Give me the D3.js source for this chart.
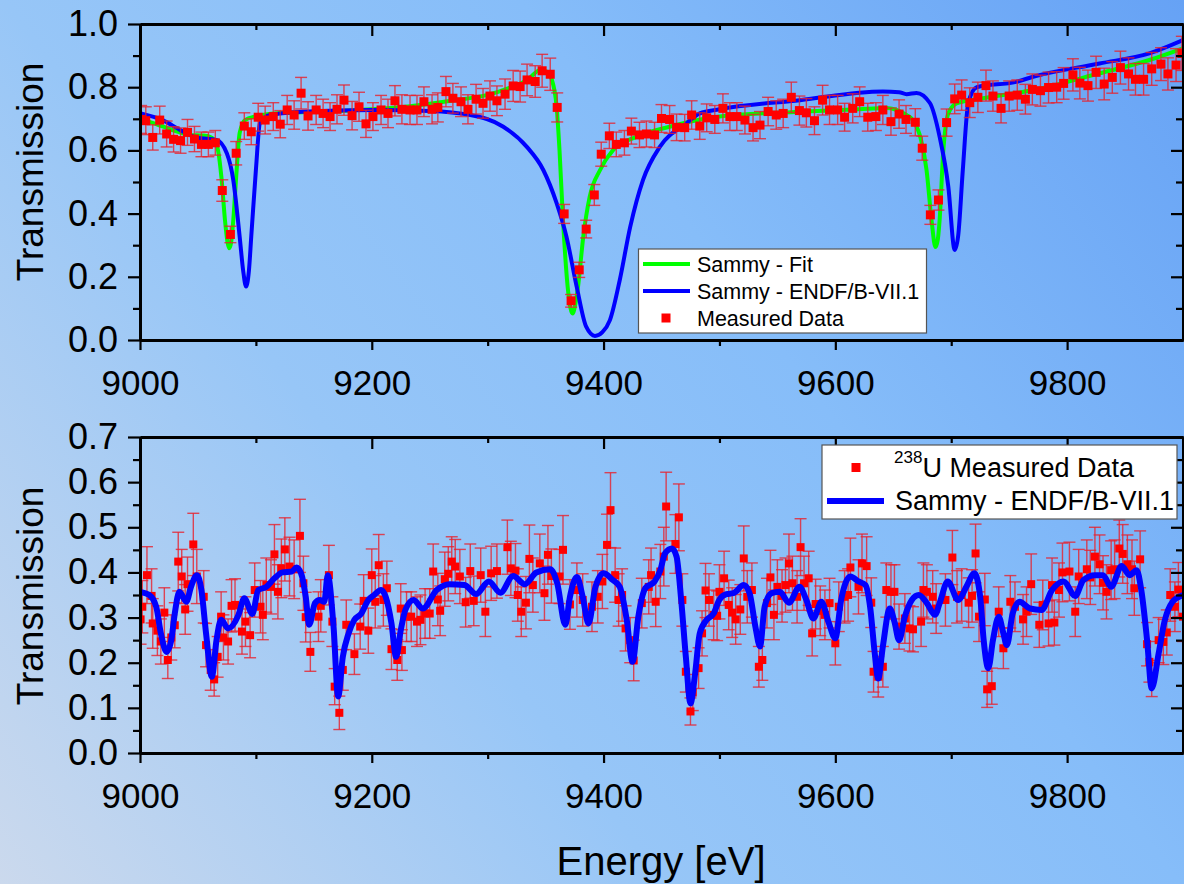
<!DOCTYPE html>
<html><head><meta charset="utf-8">
<script src="https://cdn.jsdelivr.net/npm/d3@7"></script>
<style>html,body{margin:0;padding:0;overflow:hidden;background:#fff}svg{display:block}</style>
</head><body>
<svg id="chart" width="1184" height="884"></svg>
<script>
// ---------------- data ----------------
const xMajorTicks = [9000, 9200, 9400, 9600, 9800];
const xMinorTicks = [9100, 9300, 9500, 9700];
const topYTicks = [0.0, 0.2, 0.4, 0.6, 0.8, 1.0];
const topYMinor = [0.1, 0.3, 0.5, 0.7, 0.9];
const bottomYTicks = [0.0, 0.1, 0.2, 0.3, 0.4, 0.5, 0.6, 0.7];
const bottomYMinor = [0.05, 0.15, 0.25, 0.35, 0.45, 0.55, 0.65];
const xLabel = "Energy [eV]";
const yLabel = "Transmission";
const topLegend = ["Sammy - Fit", "Sammy - ENDF/B-VII.1", "Measured Data"];
const bottomLegend = ["238", "U Measured Data", "Sammy - ENDF/B-VII.1"];

// top panel: SAMMY fit (green)
const topFit = [[9000,0.700],[9010,0.688],[9020,0.675],[9030,0.662],[9043,0.649],[9055,0.647],[9062,0.640],
 [9066.6,0.612],[9070.5,0.506],[9073.3,0.38],[9075.5,0.31],[9077,0.29],[9078.7,0.31],[9080.5,0.38],[9083.4,0.538],
 [9086,0.655],[9090.6,0.696],[9100,0.708],[9120,0.718],[9150,0.722],[9180,0.726],[9200,0.730],[9220,0.735],
 [9242,0.744],[9270,0.758],[9299,0.775],[9320,0.800],[9335,0.825],[9345,0.854],[9352,0.848],[9355,0.828],
 [9359.5,0.738],[9362,0.60],[9365,0.38],[9369.6,0.148],[9373.3,0.084],[9376,0.12],[9378,0.169],[9382.5,0.327],
 [9388,0.453],[9397,0.538],[9408,0.60],[9428.5,0.643],[9457,0.675],[9500,0.707],[9569,0.722],[9620,0.730],
 [9644,0.734],[9660,0.715],[9667,0.696],[9674,0.633],[9678.7,0.538],[9683,0.38],[9686.4,0.294],[9688.5,0.32],
 [9690,0.38],[9693,0.59],[9697.5,0.717],[9704.6,0.749],[9727.6,0.765],[9770.7,0.791],[9828,0.844],[9871,0.886],[9900,0.923]];

// top panel: SAMMY with ENDF/B-VII.1 (blue)
const topEndf = [[9000,0.718],[9020,0.695],[9034.5,0.665],[9049,0.640],[9066,0.633],[9075,0.59],[9080.5,0.506],
 [9086,0.327],[9089,0.22],[9091.5,0.169],[9094,0.22],[9096,0.327],[9100,0.538],[9103.5,0.686],[9112,0.712],
 [9140,0.722],[9200,0.728],[9250,0.725],[9285,0.712],[9313.5,0.675],[9333.6,0.612],[9348,0.538],[9359.5,0.433],
 [9368,0.327],[9376.8,0.169],[9385,0.042],[9392.6,0.013],[9399,0.025],[9405.5,0.063],[9414,0.19],[9423,0.358],
 [9434,0.506],[9448.7,0.612],[9471.7,0.686],[9483,0.717],[9500,0.730],[9569.5,0.759],[9641,0.786],[9655,0.784],
 [9661.5,0.778],[9670,0.782],[9681.6,0.75],[9690,0.643],[9697.5,0.485],[9703,0.285],[9706,0.33],[9710,0.538],
 [9714.7,0.75],[9722,0.80],[9756,0.817],[9770.6,0.833],[9828,0.875],[9871,0.907],[9900,0.949]];

// top panel measured data [E, T, error]
const topMeasured = [[9001,0.698,0.044],[9005,0.694,0.044],[9011,0.641,0.040],[9017,0.696,0.044],[9023,0.652,0.041],
 [9029,0.635,0.040],[9035,0.631,0.040],[9041,0.657,0.041],[9047,0.636,0.040],[9053,0.619,0.039],[9059,0.619,0.039],
 [9065,0.624,0.039],[9071,0.473,0.034],[9078,0.334,0.026],[9083,0.591,0.037],[9090,0.677,0.042],[9096,0.659,0.041],
 [9102,0.705,0.044],[9108,0.696,0.044],[9115,0.707,0.044],[9121,0.683,0.043],[9127,0.728,0.046],[9133,0.712,0.045],
 [9139,0.781,0.050],[9145,0.709,0.045],[9152,0.728,0.046],[9158,0.717,0.045],[9164,0.707,0.044],[9170,0.730,0.046],
 [9176,0.759,0.048],[9183,0.710,0.045],[9189,0.738,0.046],[9195,0.684,0.043],[9201,0.707,0.044],[9208,0.728,0.046],
 [9214,0.717,0.045],[9220,0.757,0.048],[9226,0.730,0.046],[9233,0.728,0.046],[9239,0.728,0.046],[9245,0.754,0.047],
 [9252,0.730,0.046],[9257,0.736,0.046],[9264,0.786,0.048],[9270,0.765,0.047],[9277,0.754,0.047],[9283,0.730,0.046],
 [9290,0.762,0.047],[9296,0.749,0.047],[9302,0.772,0.048],[9308,0.757,0.047],[9315,0.778,0.048],[9322,0.804,0.049],
 [9328,0.802,0.049],[9334,0.823,0.050],[9341,0.818,0.050],[9347,0.852,0.052],[9354,0.841,0.051],[9360,0.736,0.046],
 [9366,0.399,0.030],[9372,0.124,0.020],[9379,0.222,0.024],[9385,0.351,0.028],[9392,0.459,0.033],[9398,0.588,0.038],
 [9405,0.646,0.040],[9411,0.619,0.039],[9418,0.624,0.039],[9424,0.661,0.041],[9431,0.649,0.040],[9437,0.652,0.041],
 [9444,0.649,0.040],[9450,0.701,0.044],[9457,0.698,0.044],[9463,0.673,0.042],[9470,0.672,0.042],[9476,0.712,0.045],
 [9483,0.677,0.042],[9489,0.703,0.044],[9496,0.698,0.044],[9503,0.733,0.046],[9509,0.707,0.044],[9515,0.707,0.044],
 [9522,0.696,0.044],[9529,0.672,0.042],[9535,0.680,0.043],[9542,0.723,0.045],[9549,0.712,0.045],[9555,0.717,0.045],
 [9562,0.768,0.048],[9569,0.726,0.046],[9575,0.719,0.045],[9582,0.694,0.044],[9589,0.759,0.047],[9595,0.728,0.046],
 [9602,0.728,0.046],[9608,0.705,0.044],[9615,0.733,0.046],[9621,0.754,0.047],[9628,0.705,0.044],[9635,0.707,0.044],
 [9641,0.728,0.046],[9648,0.691,0.043],[9655,0.715,0.045],[9661,0.698,0.044],[9669,0.689,0.043],[9675,0.607,0.038],
 [9682,0.396,0.030],[9689,0.443,0.032],[9696,0.688,0.043],[9703,0.763,0.047],[9709,0.775,0.048],[9716,0.751,0.047],
 [9723,0.768,0.048],[9730,0.805,0.049],[9736,0.772,0.048],[9743,0.733,0.046],[9750,0.772,0.048],[9757,0.775,0.048],
 [9764,0.762,0.047],[9770,0.793,0.049],[9777,0.789,0.049],[9784,0.799,0.049],[9791,0.800,0.049],[9797,0.812,0.050],
 [9805,0.839,0.051],[9811,0.813,0.050],[9818,0.805,0.049],[9825,0.847,0.051],[9832,0.810,0.050],[9839,0.831,0.050],
 [9846,0.862,0.052],[9853,0.842,0.051],[9859,0.825,0.050],[9866,0.825,0.050],[9873,0.858,0.052],[9881,0.873,0.052],
 [9887,0.842,0.051],[9894,0.870,0.052],[9899,0.907,0.054]];

// bottom panel: SAMMY with ENDF/B-VII.1 (blue)
const bottomEndf = [[9000,0.357],[9008,0.350],[9014,0.324],[9018,0.265],[9023,0.224],[9027,0.250],[9030,0.309],
 [9034,0.357],[9040,0.335],[9044,0.368],[9049,0.394],[9053,0.361],[9057,0.265],[9062,0.169],[9066,0.250],[9070,0.295],
 [9076,0.276],[9085,0.306],[9090,0.343],[9097,0.308],[9102,0.361],[9109,0.368],[9116,0.387],[9123,0.400],[9131,0.402],
 [9135,0.411],[9139,0.398],[9143,0.346],[9146,0.284],[9151,0.332],[9155,0.339],[9159,0.335],[9162,0.394],[9167,0.280],
 [9171,0.125],[9175,0.213],[9180,0.265],[9185,0.295],[9191,0.309],[9197,0.339],[9202,0.350],[9208,0.361],[9212,0.346],
 [9217,0.287],[9221,0.213],[9225,0.272],[9229,0.317],[9236,0.339],[9244,0.320],[9256,0.361],[9267,0.374],[9280,0.372],
 [9290,0.352],[9301,0.380],[9311,0.355],[9322,0.392],[9332,0.374],[9342,0.400],[9354,0.407],[9360,0.376],[9367,0.284],
 [9371,0.346],[9377,0.390],[9382,0.346],[9387,0.287],[9393,0.368],[9400,0.398],[9408,0.383],[9414,0.368],[9420,0.295],
 [9425,0.202],[9430,0.302],[9436,0.365],[9444,0.380],[9449,0.405],[9453,0.442],[9459,0.453],[9463,0.435],[9467,0.339],
 [9471,0.213],[9475,0.110],[9479,0.176],[9483,0.265],[9489,0.295],[9495,0.309],[9500,0.340],[9506,0.352],[9512,0.354],
 [9521,0.372],[9526,0.354],[9531,0.280],[9535,0.236],[9539,0.324],[9545,0.354],[9552,0.357],[9560,0.333],[9569,0.368],
 [9575,0.339],[9581,0.298],[9588,0.335],[9594,0.291],[9600,0.254],[9605,0.339],[9613,0.391],[9620,0.380],[9626,0.372],
 [9630,0.324],[9634,0.221],[9637,0.165],[9641,0.236],[9647,0.320],[9651,0.291],[9655,0.250],[9660,0.302],[9666,0.339],
 [9672,0.350],[9679,0.332],[9686,0.306],[9690,0.332],[9697,0.380],[9706,0.339],[9713,0.368],[9720,0.398],[9725,0.346],
 [9728,0.250],[9732,0.188],[9736,0.250],[9741,0.302],[9745,0.265],[9748,0.239],[9753,0.309],[9759,0.335],[9768,0.320],
 [9778,0.317],[9787,0.361],[9797,0.380],[9807,0.348],[9814,0.383],[9824,0.394],[9831,0.394],[9838,0.368],[9847,0.414],
 [9854,0.394],[9860,0.405],[9864,0.361],[9869,0.250],[9873,0.143],[9879,0.221],[9884,0.291],[9891,0.335],[9900,0.350]];

// bottom panel: 238U measured data [E, T, error]
const bottomMeasured = [[9000.5,0.296,0.055],[9002,0.324,0.058],[9006,0.394,0.063],[9010,0.348,0.060],[9011,0.287,0.055],
 [9015,0.271,0.055],[9018,0.247,0.050],[9021,0.311,0.055],[9024,0.206,0.041],[9027,0.256,0.050],[9030,0.283,0.050],
 [9033,0.424,0.065],[9036,0.391,0.060],[9039,0.318,0.055],[9041,0.374,0.060],[9046,0.462,0.069],[9049,0.391,0.060],
 [9055,0.346,0.058],[9057,0.239,0.048],[9061,0.184,0.045],[9064,0.163,0.037],[9067,0.213,0.045],[9070,0.302,0.055],
 [9072,0.256,0.050],[9076,0.247,0.050],[9079,0.326,0.058],[9082,0.328,0.058],[9088,0.269,0.050],[9091,0.291,0.055],
 [9095,0.261,0.050],[9099,0.361,0.060],[9104,0.324,0.058],[9106,0.306,0.055],[9109,0.372,0.060],[9113,0.368,0.060],
 [9116,0.440,0.066],[9119,0.357,0.060],[9122,0.409,0.065],[9125,0.451,0.070],[9129,0.413,0.065],[9133,0.407,0.065],
 [9138,0.481,0.081],[9141,0.376,0.060],[9143,0.301,0.055],[9147,0.224,0.043],[9154,0.302,0.055],[9156,0.326,0.058],
 [9163,0.394,0.066],[9166,0.291,0.055],[9168,0.147,0.040],[9172,0.089,0.037],[9175,0.184,0.045],[9178,0.284,0.055],
 [9185,0.219,0.045],[9190,0.280,0.050],[9193,0.337,0.058],[9197,0.271,0.050],[9200,0.394,0.058],[9203,0.335,0.058],
 [9206,0.416,0.068],[9210,0.339,0.058],[9213,0.365,0.060],[9217,0.230,0.045],[9222,0.206,0.045],[9225,0.320,0.055],
 [9226,0.228,0.045],[9230,0.302,0.055],[9234,0.302,0.055],[9239,0.291,0.055],[9242,0.295,0.055],[9246,0.309,0.055],
 [9250,0.309,0.055],[9253,0.402,0.061],[9257,0.340,0.058],[9259,0.315,0.055],[9263,0.385,0.060],[9266,0.397,0.060],
 [9269,0.424,0.055],[9272,0.413,0.060],[9276,0.391,0.060],[9281,0.334,0.055],[9285,0.403,0.060],[9288,0.337,0.055],
 [9294,0.394,0.060],[9298,0.313,0.055],[9303,0.398,0.060],[9308,0.403,0.060],[9317,0.456,0.060],[9320,0.409,0.060],
 [9324,0.404,0.060],[9326,0.350,0.058],[9329,0.313,0.055],[9333,0.333,0.058],[9336,0.430,0.075],[9339,0.372,0.060],
 [9345,0.420,0.065],[9349,0.354,0.060],[9352,0.439,0.065],[9355,0.392,0.060],[9362,0.391,0.060],[9365,0.450,0.076],
 [9371,0.329,0.055],[9377,0.361,0.060],[9382,0.339,0.058],[9390,0.324,0.055],[9395,0.346,0.058],[9399,0.380,0.060],
 [9403,0.461,0.068],[9406,0.538,0.083],[9410,0.394,0.060],[9413,0.339,0.058],[9416,0.350,0.058],[9419,0.276,0.050],
 [9423,0.250,0.050],[9426,0.205,0.045],[9433,0.332,0.055],[9439,0.368,0.060],[9441,0.394,0.060],[9445,0.335,0.055],
 [9449,0.402,0.060],[9452,0.435,0.065],[9454,0.546,0.076],[9462,0.463,0.065],[9465,0.522,0.074],[9468,0.339,0.058],
 [9471,0.180,0.045],[9475,0.092,0.030],[9477,0.134,0.040],[9482,0.188,0.045],[9485,0.265,0.050],[9488,0.360,0.060],
 [9491,0.339,0.058],[9495,0.306,0.055],[9498,0.304,0.055],[9500,0.357,0.060],[9504,0.387,0.060],[9508,0.328,0.055],
 [9511,0.311,0.055],[9514,0.296,0.055],[9518,0.318,0.055],[9521,0.431,0.072],[9524,0.346,0.058],[9528,0.361,0.060],
 [9534,0.191,0.045],[9537,0.206,0.045],[9541,0.332,0.055],[9544,0.389,0.060],[9547,0.306,0.055],[9550,0.368,0.060],
 [9554,0.348,0.058],[9557,0.372,0.060],[9560,0.420,0.065],[9563,0.376,0.060],[9567,0.346,0.058],[9570,0.456,0.063],
 [9573,0.376,0.060],[9577,0.387,0.060],[9580,0.265,0.050],[9583,0.330,0.055],[9587,0.315,0.055],[9591,0.306,0.055],
 [9595,0.332,0.055],[9600,0.243,0.048],[9603,0.324,0.055],[9608,0.346,0.058],[9611,0.350,0.058],[9613,0.411,0.065],
 [9620,0.368,0.060],[9623,0.420,0.065],[9627,0.414,0.065],[9631,0.333,0.055],[9633,0.180,0.045],[9637,0.169,0.045],
 [9641,0.191,0.045],[9644,0.361,0.060],[9648,0.357,0.060],[9651,0.357,0.060],[9655,0.280,0.050],[9660,0.298,0.055],
 [9664,0.276,0.050],[9667,0.274,0.050],[9674,0.291,0.055],[9676,0.361,0.060],[9679,0.357,0.060],[9684,0.346,0.058],
 [9687,0.320,0.055],[9695,0.339,0.058],[9701,0.433,0.060],[9705,0.346,0.058],[9709,0.350,0.058],[9715,0.333,0.055],
 [9718,0.348,0.058],[9721,0.442,0.065],[9724,0.302,0.055],[9729,0.340,0.058],[9731,0.141,0.040],[9735,0.148,0.040],
 [9741,0.313,0.055],[9745,0.232,0.045],[9751,0.335,0.058],[9755,0.324,0.055],[9762,0.296,0.055],[9765,0.313,0.055],
 [9769,0.374,0.067],[9776,0.284,0.050],[9779,0.328,0.055],[9784,0.287,0.050],[9787,0.372,0.060],[9789,0.289,0.050],
 [9793,0.361,0.060],[9796,0.400,0.065],[9802,0.402,0.065],[9807,0.313,0.055],[9810,0.391,0.060],[9817,0.407,0.065],
 [9820,0.389,0.060],[9824,0.435,0.065],[9828,0.418,0.065],[9831,0.377,0.060],[9834,0.357,0.060],[9838,0.405,0.065],
 [9841,0.407,0.065],[9845,0.453,0.063],[9848,0.441,0.065],[9852,0.418,0.065],[9856,0.407,0.065],[9858,0.365,0.060],
 [9863,0.429,0.063],[9869,0.241,0.048],[9871,0.202,0.045],[9873,0.165,0.040],[9879,0.250,0.050],[9883,0.246,0.050],
 [9886,0.267,0.050],[9889,0.350,0.058],[9893,0.324,0.055],[9896,0.362,0.060],[9900,0.302,0.055]];

// ---------------- drawing ----------------
const W = 1184, H = 884;
const FONT = "'Liberation Sans', Arial, Helvetica, sans-serif";
const svg = d3.select("#chart");
const defs = svg.append("defs");

const grad = defs.append("linearGradient").attr("id", "bg")
  .attr("gradientUnits", "userSpaceOnUse")
  .attr("x1", 0).attr("y1", H).attr("x2", W).attr("y2", 0);
[[0, "#cbd9ed"], [0.36, "#97c6f7"], [0.64, "#86bdf9"], [1, "#66a2f5"]].forEach(s =>
  grad.append("stop").attr("offset", s[0]).attr("stop-color", s[1]));
svg.append("rect").attr("width", W).attr("height", H).attr("fill", "url(#bg)");

const plotLeft = 140, plotRight = 1183;
const x = d3.scaleLinear().domain([9000, 9900]).range([plotLeft, plotRight]);

function panel(opts) {
  const y = d3.scaleLinear().domain(opts.yDomain).range([opts.bottom, opts.top]);
  const g = svg.append("g");
  const clipId = "clip" + opts.id;
  defs.append("clipPath").attr("id", clipId).append("rect")
    .attr("x", plotLeft).attr("y", opts.top).attr("width", plotRight - plotLeft).attr("height", opts.bottom - opts.top);
  const plot = g.append("g").attr("clip-path", `url(#${clipId})`);

  function drawLine(data, color, width) {
    plot.append("path").datum(data)
      .attr("fill", "none").attr("stroke", color).attr("stroke-width", width)
      .attr("stroke-linejoin", "round").attr("stroke-linecap", "round")
      .attr("d", d3.line().x(d => x(d[0])).y(d => y(d[1])).curve(d3.curveMonotoneX));
  }
  function drawPoints(data, size) {
    const eb = plot.append("g").attr("stroke", "#e8202c").attr("stroke-opacity", 0.8).attr("stroke-width", 1.4);
    data.forEach(d => {
      const cx = x(d[0]), y1 = y(d[1] - d[2]), y2 = y(d[1] + d[2]);
      eb.append("line").attr("x1", cx).attr("x2", cx).attr("y1", y1).attr("y2", y2);
      eb.append("line").attr("x1", cx - 6).attr("x2", cx + 6).attr("y1", y1).attr("y2", y1);
      eb.append("line").attr("x1", cx - 6).attr("x2", cx + 6).attr("y1", y2).attr("y2", y2);
    });
    plot.append("g").selectAll("rect").data(data).join("rect")
      .attr("x", d => x(d[0]) - size / 2).attr("y", d => y(d[1]) - size / 2)
      .attr("width", size).attr("height", size).attr("fill", "#ff0000");
  }
  opts.draw(drawLine, drawPoints);

  // axes
  function styleAxis(sel, labels, fs) {
    sel.select(".domain").attr("stroke", "#000").attr("stroke-width", 3);
    sel.selectAll(".tick line").attr("stroke", "#000").attr("stroke-width", 2.2);
    sel.selectAll(".tick text").attr("fill", labels ? "#000" : "none")
      .style("font-family", FONT).style("font-size", (fs || 35) + "px");
  }
  const fmt = d3.format(".1f");
  // left
  g.append("g").attr("transform", `translate(${plotLeft},0)`)
    .call(d3.axisLeft(y).tickValues(opts.yTicks).tickFormat(fmt).tickSize(12).tickPadding(10).tickSizeOuter(0))
    .call(s => styleAxis(s, true, 36));
  g.append("g").attr("transform", `translate(${plotLeft},0)`)
    .call(d3.axisLeft(y).tickValues(opts.yMinor).tickFormat("").tickSize(7).tickSizeOuter(0))
    .call(s => styleAxis(s, false));
  // right (inward)
  g.append("g").attr("transform", `translate(${plotRight},0)`)
    .call(d3.axisLeft(y).tickValues(opts.yTicks).tickFormat("").tickSize(12).tickSizeOuter(0))
    .call(s => styleAxis(s, false));
  g.append("g").attr("transform", `translate(${plotRight},0)`)
    .call(d3.axisLeft(y).tickValues(opts.yMinor).tickFormat("").tickSize(7).tickSizeOuter(0))
    .call(s => styleAxis(s, false));
  // bottom (outward)
  g.append("g").attr("transform", `translate(0,${opts.bottom})`)
    .call(d3.axisBottom(x).tickValues(xMajorTicks).tickFormat(d3.format("d")).tickSize(10).tickPadding(20).tickSizeOuter(0))
    .call(s => styleAxis(s, true));
  g.append("g").attr("transform", `translate(0,${opts.bottom})`)
    .call(d3.axisBottom(x).tickValues(xMinorTicks).tickFormat("").tickSize(6).tickSizeOuter(0))
    .call(s => styleAxis(s, false));
  // top (inward)
  g.append("g").attr("transform", `translate(0,${opts.top})`)
    .call(d3.axisBottom(x).tickValues(xMajorTicks).tickFormat("").tickSize(12).tickSizeOuter(0))
    .call(s => styleAxis(s, false));
  g.append("g").attr("transform", `translate(0,${opts.top})`)
    .call(d3.axisBottom(x).tickValues(xMinorTicks).tickFormat("").tickSize(6).tickSizeOuter(0))
    .call(s => styleAxis(s, false));

  // y title
  g.append("text").attr("transform", `translate(43,${opts.titleY}) rotate(-90)`)
    .attr("text-anchor", "middle").style("font-family", FONT).style("font-size", "37px").text(yLabel);
  return {g, y};
}

// top panel
panel({
  id: "top", top: 24, bottom: 340, titleY: 172, yDomain: [0, 1], yTicks: topYTicks, yMinor: topYMinor,
  draw: (line, pts) => {
    line(topFit, "#00ff00", 4);
    line(topEndf, "#0000ff", 4);
    pts(topMeasured, 9);
  }
});

// bottom panel
panel({
  id: "bot", top: 437, bottom: 753, titleY: 596, yDomain: [0, 0.7], yTicks: bottomYTicks, yMinor: bottomYMinor,
  draw: (line, pts) => {
    pts(bottomMeasured, 8);
    line(bottomEndf, "#0000ff", 6);
  }
});

// x title
svg.append("text").attr("x", 661).attr("y", 875).attr("text-anchor", "middle")
  .style("font-family", FONT).style("font-size", "40px").text(xLabel);

// top legend
const lg = svg.append("g");
lg.append("rect").attr("x", 638.5).attr("y", 249).attr("width", 288).attr("height", 84)
  .attr("fill", "#fff").attr("stroke", "#555").attr("stroke-width", 1.2);
const lgColors = ["#00ff00", "#0000ff", "#ff0000"];
topLegend.forEach((t, i) => {
  const cy = 264 + i * 27;
  if (i < 2) lg.append("line").attr("x1", 643).attr("x2", 690).attr("y1", cy).attr("y2", cy)
    .attr("stroke", lgColors[i]).attr("stroke-width", 4);
  else lg.append("rect").attr("x", 661.5).attr("y", cy - 4.5).attr("width", 9).attr("height", 9).attr("fill", lgColors[i]);
  lg.append("text").attr("x", 697).attr("y", cy + 8).style("font-family", FONT).style("font-size", "21.5px").text(t);
});

// bottom legend
const bl = svg.append("g");
bl.append("rect").attr("x", 822).attr("y", 445).attr("width", 355).attr("height", 74)
  .attr("fill", "#fff").attr("stroke", "#555").attr("stroke-width", 1.2);
bl.append("rect").attr("x", 851.5).attr("y", 463).attr("width", 9).attr("height", 9).attr("fill", "#ff0000");
const t1 = bl.append("text").attr("x", 894).attr("y", 477).style("font-family", FONT).style("font-size", "27px");
t1.append("tspan").attr("dy", -14).style("font-size", "17px").text(bottomLegend[0]);
t1.append("tspan").attr("dy", 14).text(bottomLegend[1]);
bl.append("line").attr("x1", 827).attr("x2", 884).attr("y1", 501).attr("y2", 501)
  .attr("stroke", "#0000ff").attr("stroke-width", 6);
bl.append("text").attr("x", 895).attr("y", 510).style("font-family", FONT).style("font-size", "27px").text(bottomLegend[2]);
</script>
</body></html>
